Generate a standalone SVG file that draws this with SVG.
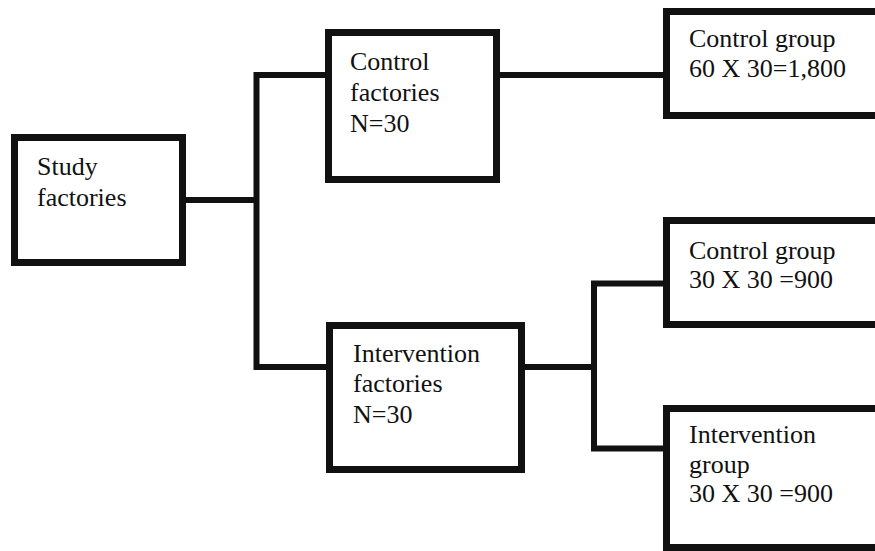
<svg xmlns="http://www.w3.org/2000/svg" width="875" height="551" viewBox="0 0 875 551">
<style>
.box{fill:#fff;stroke:#111;stroke-width:7}
.con{fill:none;stroke:#111;stroke-width:6;stroke-linejoin:miter}
text{font-family:"Liberation Serif","Times New Roman",serif;font-size:26px;fill:#111}
</style>
<rect width="875" height="551" fill="#fff"/>
<g id="connectors">
<path class="con" d="M182.5 200 H256.5"/>
<path class="con" d="M328.5 75 H256.5 V367 H329.5"/>
<path class="con" d="M496.5 75 H666.5"/>
<path class="con" d="M521.5 367 H594"/>
<path class="con" d="M666.5 283.5 H594 V448.5 H666.5"/>
</g>
<g id="study">
<rect class="box" x="14.5" y="137.5" width="168" height="125"/>
<text x="37" y="175">Study</text>
<text x="37" y="206">factories</text>
</g>
<g id="control-factories">
<rect class="box" x="328.5" y="32.5" width="168" height="147"/>
<text x="350" y="70">Control</text>
<text x="350" y="101">factories</text>
<text x="350" y="132">N=30</text>
</g>
<g id="intervention-factories">
<rect class="box" x="329.5" y="325.5" width="192" height="144"/>
<text x="353" y="362">Intervention</text>
<text x="353" y="392">factories</text>
<text x="353" y="423">N=30</text>
</g>
<g id="control-group-1">
<rect class="box" x="666.5" y="11.5" width="260" height="104"/>
<text x="689" y="47">Control group</text>
<text x="689" y="77">60 X 30=1,800</text>
</g>
<g id="control-group-2">
<rect class="box" x="666.5" y="220.5" width="260" height="104"/>
<text x="689" y="259">Control group</text>
<text x="689" y="288">30 X 30 =900</text>
</g>
<g id="intervention-group">
<rect class="box" x="666.5" y="408.5" width="260" height="139"/>
<text x="689" y="443">Intervention</text>
<text x="689" y="473">group</text>
<text x="689" y="502">30 X 30 =900</text>
</g>
</svg>
